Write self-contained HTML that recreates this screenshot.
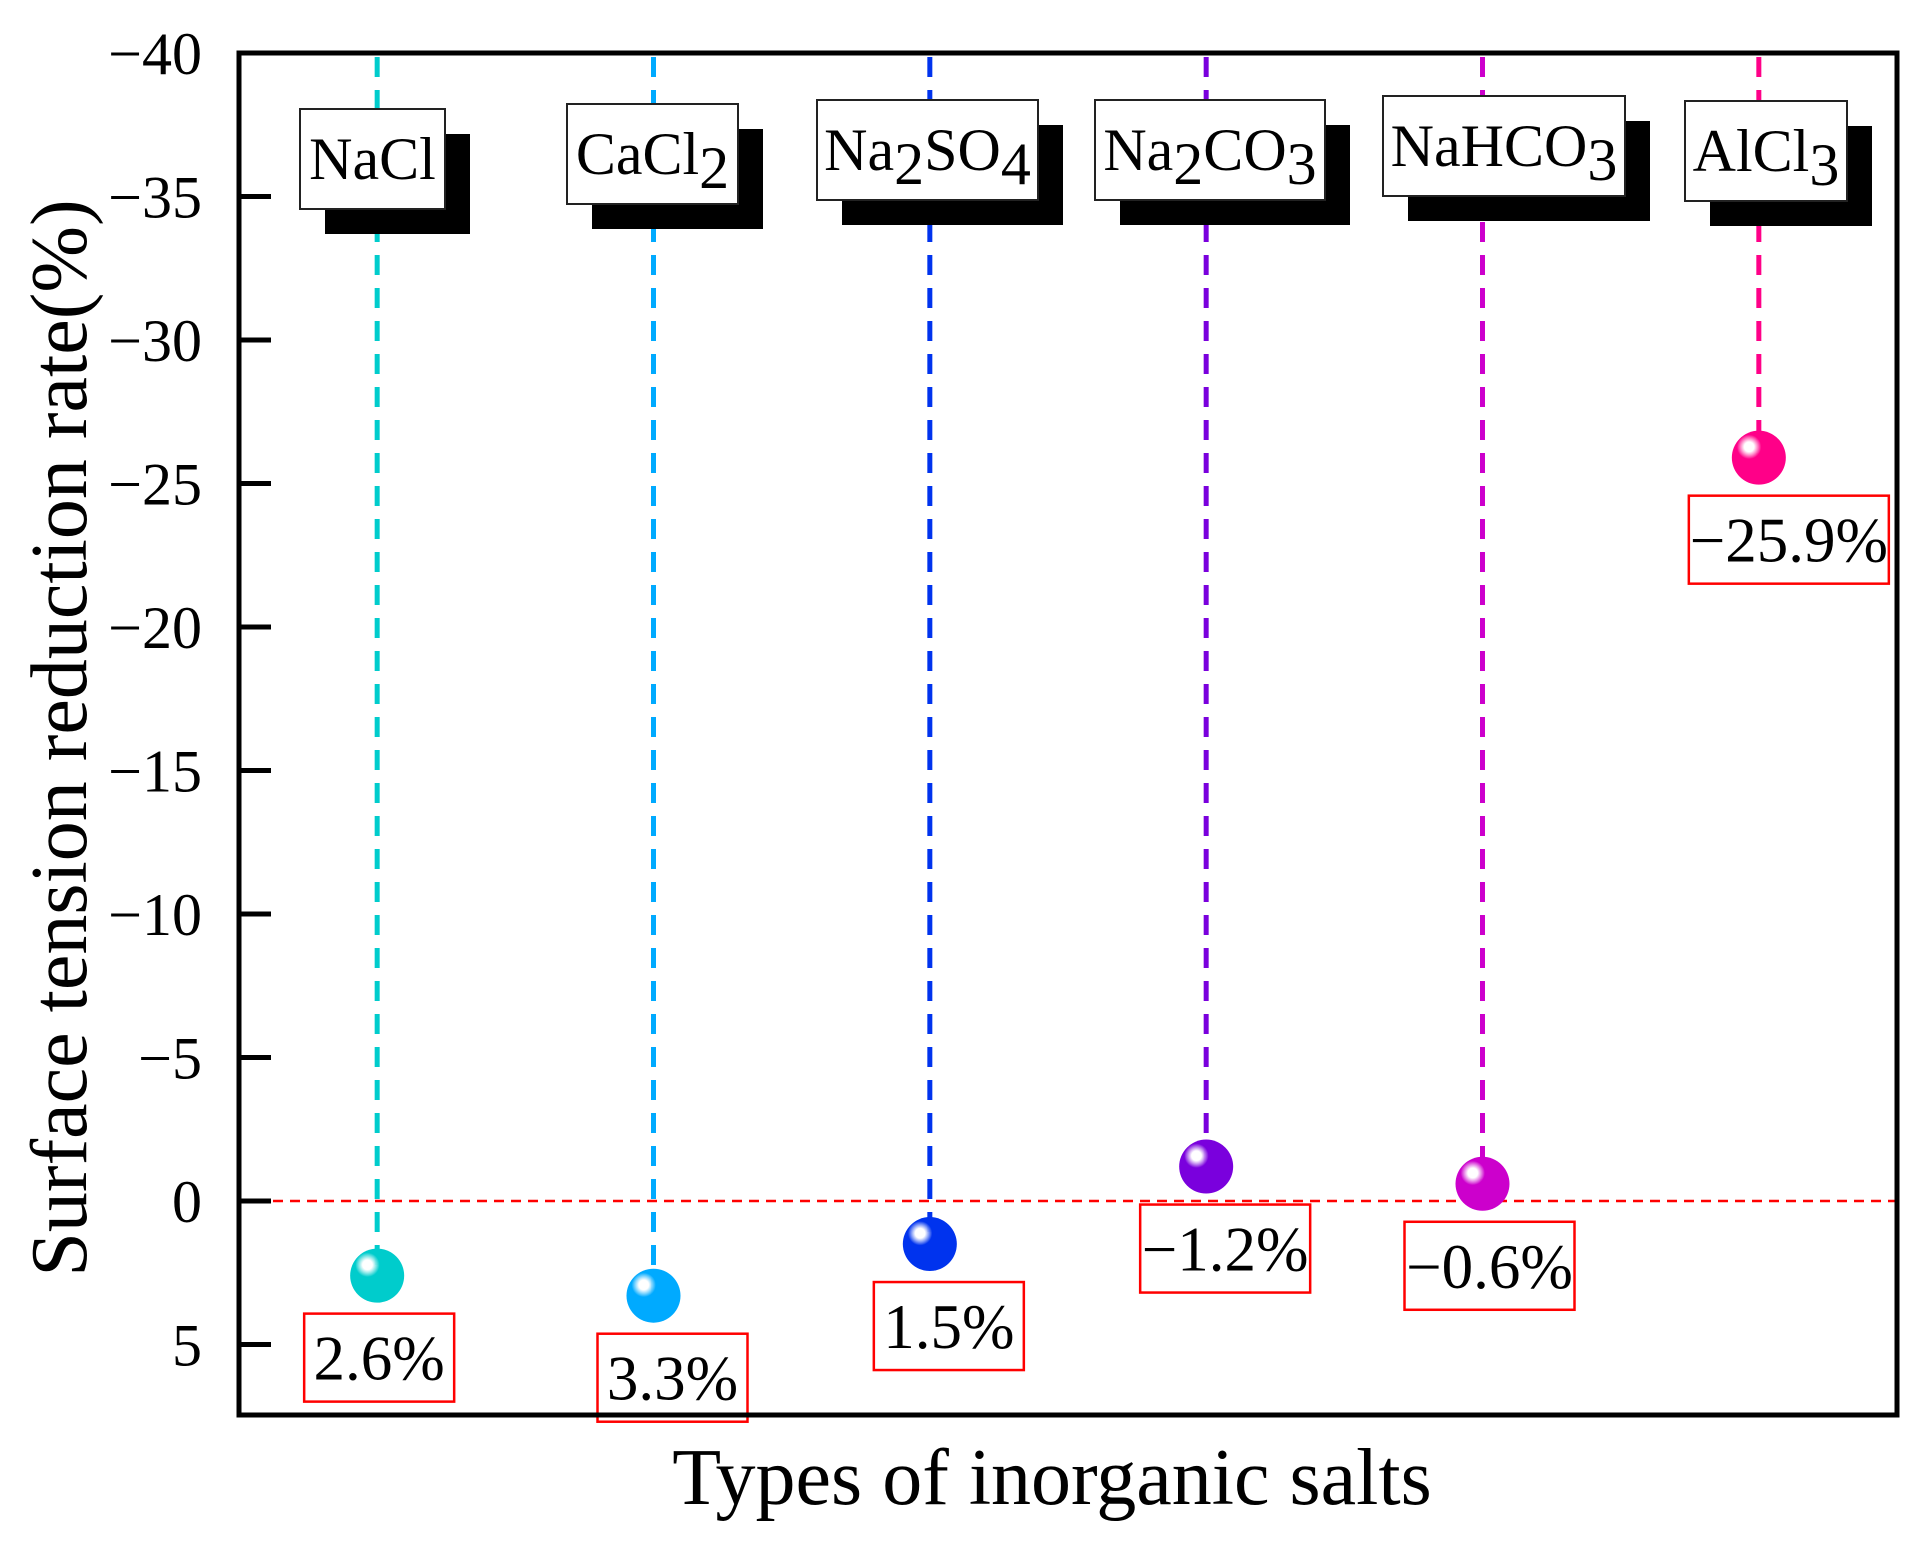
<!DOCTYPE html>
<html><head><meta charset="utf-8"><style>
html,body{margin:0;padding:0;background:#fff;}
svg{display:block;font-family:"Liberation Serif",serif;}
</style></head><body>
<svg id="chart" width="1928" height="1542" viewBox="0 0 1928 1542" xmlns="http://www.w3.org/2000/svg">
<defs>
</defs>
</svg>
<script>
const categories = ["NaCl","CaCl2","Na2SO4","Na2CO3","NaHCO3","AlCl3"];
const values = [2.6, 3.3, 1.5, -1.2, -0.6, -25.9];
const valueLabels = ["2.6%","3.3%","1.5%","\u22121.2%","\u22120.6%","\u221225.9%"];
const yTicks = [-40,-35,-30,-25,-20,-15,-10,-5,0,5];
const colors = ["#00cccc","#00aaff","#0033ee","#7a00dd","#cc00cc","#ff0088"];

const NS="http://www.w3.org/2000/svg";
const svg=document.getElementById('chart');
const L=239,R=1897,T=53,B=1415;
const y0=1201, pu=28.7;
function yScale(v){return y0+v*pu;}
function xScale(i){return L+(i+0.5)*(R-L)/categories.length;}
function mk(tag,attrs,parent){const e=document.createElementNS(NS,tag);for(const k in attrs)e.setAttribute(k,attrs[k]);(parent||svg).appendChild(e);return e;}

colors.forEach((c,i)=>{
  const defs=svg.querySelector('defs');
  const g=mk('radialGradient',{id:'g'+i,cx:'0.32',cy:'0.3',r:'0.75'},defs);
  mk('stop',{offset:'0',"stop-color":'#ffffff'},g);
  mk('stop',{offset:'0.12',"stop-color":'#ffffff',"stop-opacity":'0.9'},g);
  mk('stop',{offset:'0.3',"stop-color":c},g);
  mk('stop',{offset:'1',"stop-color":c},g);
});

let z=mk('line',{x1:L,x2:R,y1:yScale(0),y2:yScale(0),stroke:'#ff0000','stroke-width':2.5,'stroke-dasharray':'10 7'});



const boxW=[145,171,221,230,242,162];
categories.forEach((c,i)=>{
  const x=xScale(i), yv=yScale(values[i]);
  const ln=mk('line',{x1:x,x2:x,y1:T+4,y2:yv,stroke:colors[i],'stroke-width':5,'stroke-dasharray':'20 13'});
  
  
});
const boxTops=[109,104,100,100,96,101];
const boxLefts=[300,567,817,1095,1383,1685];
categories.forEach((c,i)=>{
  const g=mk('g',{});
  
  
  const bx=boxLefts[i], by=boxTops[i], w=boxW[i], h=100;
  mk('rect',{x:bx+25,y:by+25,width:w,height:h,fill:'#000'},g);
  mk('rect',{x:bx,y:by,width:w,height:h,fill:'#fff',stroke:'#222','stroke-width':2},g);
  const t=mk('text',{x:bx+w/2,y:by+70,'text-anchor':'middle','font-size':60,fill:'#000'},g);
  const parts=c.split(/(\d)/).filter(s=>s!=='');
  parts.forEach((p,k)=>{
    const ts=mk('tspan',{},t);
    if(/\d/.test(p)){ts.setAttribute('dy','14');}
    else if(k>0){ts.setAttribute('dy','-14');}
    ts.textContent=p;
  });
});

const lblOff=[2,19,19,19,7,30];
categories.forEach((c,i)=>{
  const x=xScale(i), yv=yScale(values[i]);
  const p=mk('circle',{cx:x,cy:yv,r:27,fill:'url(#g'+i+')'});
  
  
  const g=mk('g',{});
  
  
  const txt=valueLabels[i];
  const w=txt.length>5?200:(txt.length>4?170:150);
  const cx=x+lblOff[i];
  const top=yv+38;
  mk('rect',{x:cx-w/2,y:top,width:w,height:88,fill:'none',stroke:'#ff0000','stroke-width':2.5},g);
  const t=mk('text',{x:cx,y:top+66,'text-anchor':'middle','font-size':63,fill:'#000'},g);
  t.textContent=txt;
});

let fr=mk('rect',{x:L,y:T,width:R-L,height:B-T,fill:'none',stroke:'#000','stroke-width':5});



yTicks.forEach(v=>{
  const y=yScale(v);
  const tk=mk('line',{x1:L,x2:L+32,y1:y,y2:y,stroke:'#000','stroke-width':5});
  
  
  const t=mk('text',{x:202,y:y+21,'text-anchor':'end','font-size':60,fill:'#000'});
  
  
  t.textContent=v<0?'\u2212'+(-v):String(v);
});

const yt=mk('text',{x:0,y:0,'text-anchor':'middle','font-size':80,fill:'#000',transform:'translate(86,738) rotate(-90)'});


yt.textContent='Surface tension reduction rate(%)';
const xt=mk('text',{x:1052,y:1504,'text-anchor':'middle','font-size':80,fill:'#000'});


xt.textContent='Types of inorganic salts';
</script>
</body></html>
